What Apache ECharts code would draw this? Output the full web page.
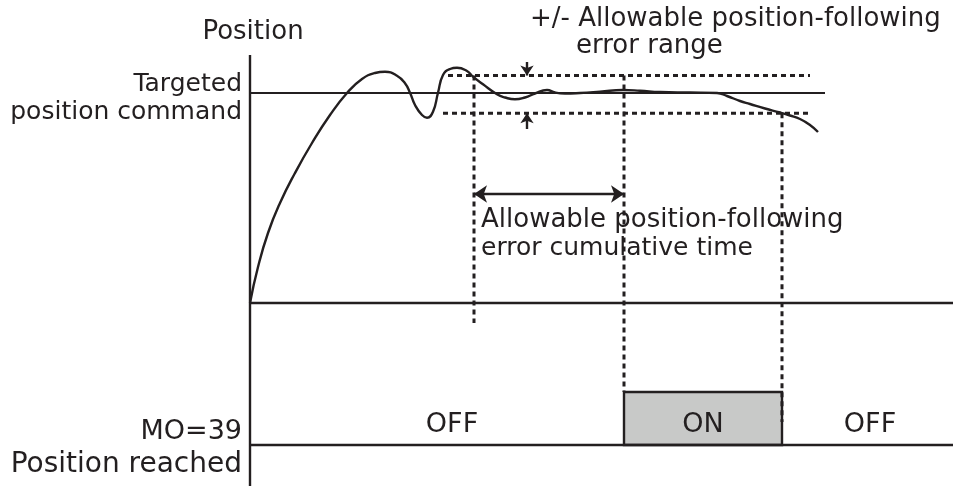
<!DOCTYPE html>
<html>
<head>
<meta charset="utf-8">
<script src="https://cdn.jsdelivr.net/npm/echarts@6/dist/echarts.min.js"></script>
<style>html,body{margin:0;padding:0;background:#fff}#c{width:953px;height:486px}</style>
</head>
<body>
<div id="c"></div>
<script>
// ---- data (time units along x, position units along y; 0 = start / zero position) ----
const curveTime = [0, 8, 18, 30, 45, 62, 80, 97, 112, 125, 135, 147, 155, 160, 165, 172, 177, 183, 188, 193, 200, 207, 217, 223, 233, 247, 255, 265, 275, 285, 297, 305, 315, 330, 350, 373, 390, 410, 440, 467, 477, 490, 500, 515, 530, 540, 550, 560, 568];
const curvePosition = [0, 36, 70, 100, 130, 160, 188, 210, 224, 230, 231.3, 227.3, 219.7, 210.3, 198, 188, 185.3, 191.3, 210.3, 228, 234, 235.3, 232, 226.3, 218.7, 208.7, 205.5, 203.7, 205.5, 209.5, 213, 210.5, 209.5, 210, 211.3, 213, 212.3, 211, 210.5, 210, 207, 202, 199, 194.5, 190.5, 187.5, 184, 178, 171];
const targetPosition = 210;
const targetEnd = 575;
const errorUpper = 227.5;
const errorLower = 189.7;
const bandStartUpper = 198, bandStartLower = 193, bandEnd = 560;
const windowStart = 224;     // start of cumulative-time window
const onStart = 374;         // MO=39 turns ON
const onEnd = 532;           // MO=39 turns OFF
const axisTop = 248, axisBottom = -183, timeEnd = 703;
const moLevel = -142, moHigh = -89;
const windowLineBottom = -20, offLineBottom = -119;
const arrowTime = 277, arrowUpperTail = 241, arrowLowerTail = 174;
const spanArrowLevel = 109;

const labelsLeft = ['Position', 'Targeted', 'position command', 'MO=39', 'Position reached'];
const annotationRange = ['+/- Allowable position-following', 'error range'];
const annotationTime = ['Allowable position-following', 'error cumulative time'];
const stateLabels = ['OFF', 'ON', 'OFF'];

const ink = '#231f20';
const font = 'DejaVu Sans';

function seg(pts, style, z) {
  return { type: 'line', data: pts, symbol: 'none', silent: true, z: z || 3,
    lineStyle: Object.assign({ color: ink, width: 2.4 }, style), animation: false };
}
const dash = { type: [5, 4], width: 3, cap: 'butt' };

const chart = echarts.init(document.getElementById('c'), null, { renderer: 'canvas' });
const series = [
  // ON box
  { type: 'line', data: [], symbol: 'none', z: 1, silent: true,
    markArea: { silent: true, animation: false,
      itemStyle: { color: '#c8c9c8', borderColor: ink, borderWidth: 2.4 },
      label: { show: false },
      data: [[{ coord: [onStart, moHigh] }, { coord: [onEnd, moLevel] }]] } },
  seg([[0, axisBottom], [0, axisTop]]),
  seg([[0, 0], [timeEnd, 0]]),
  seg([[0, moLevel], [timeEnd, moLevel]]),
  seg([[0, targetPosition], [targetEnd, targetPosition]], { width: 2 }),
  seg([[bandStartUpper, errorUpper], [bandEnd, errorUpper]], dash),
  seg([[bandStartLower, errorLower], [bandEnd, errorLower]], dash),
  seg([[windowStart, errorUpper], [windowStart, windowLineBottom]], dash),
  seg([[onStart, errorUpper], [onStart, moHigh]], dash),
  seg([[onEnd, errorLower], [onEnd, offLineBottom]], dash, 4),
  { type: 'line', data: curveTime.map((t, i) => [t, curvePosition[i]]), symbol: 'none', smooth: 0.5,
    silent: true, z: 5, lineStyle: { color: ink, width: 2.4 }, animation: false },
  { type: 'line', data: [], symbol: 'none', z: 6, silent: true,
    markLine: { silent: true, animation: false, symbol: ['none', 'arrow'], symbolSize: 10,
      label: { show: false }, lineStyle: { color: ink, width: 2.4, type: 'solid' },
      data: [
        [{ coord: [arrowTime, arrowUpperTail] }, { coord: [arrowTime, errorUpper] }],
        [{ coord: [arrowTime, arrowLowerTail] }, { coord: [arrowTime, errorLower] }],
        [{ coord: [windowStart, spanArrowLevel], symbol: 'arrow', symbolSize: 13 }, { coord: [onStart, spanArrowLevel], symbolSize: 13 }]
      ] } }
];

function txt(text, x, y, align, size) {
  return { type: 'text', x: x, y: y, silent: true, z: 100,
    style: { text: text, fill: ink, font: size + 'px "' + font + '"', textAlign: align, textVerticalAlign: 'middle' } };
}

chart.setOption({
  animation: false,
  grid: { left: 0, right: 0, top: 0, bottom: 0, containLabel: false },
  xAxis: { type: 'value', min: -250, max: 703, show: false },
  yAxis: { type: 'value', min: -183, max: 303, show: false },
  series: series,
  graphic: [
    txt(labelsLeft[0], 253, 32, 'center', 26),
    txt(labelsLeft[1], 242, 84, 'right', 25),
    txt(labelsLeft[2], 242, 112, 'right', 25),
    txt(labelsLeft[3], 242, 432, 'right', 27),
    txt(labelsLeft[4], 242, 465, 'right', 28),
    txt(annotationRange[0], 530, 19, 'left', 26),
    txt(annotationRange[1], 576, 46, 'left', 26),
    txt(annotationTime[0], 481, 220, 'left', 26),
    txt(annotationTime[1], 481, 248, 'left', 25),
    txt(stateLabels[0], 452, 425, 'center', 27),
    txt(stateLabels[1], 703, 425, 'center', 27),
    txt(stateLabels[2], 870, 425, 'center', 27)
  ]
});
</script>
</body>
</html>
